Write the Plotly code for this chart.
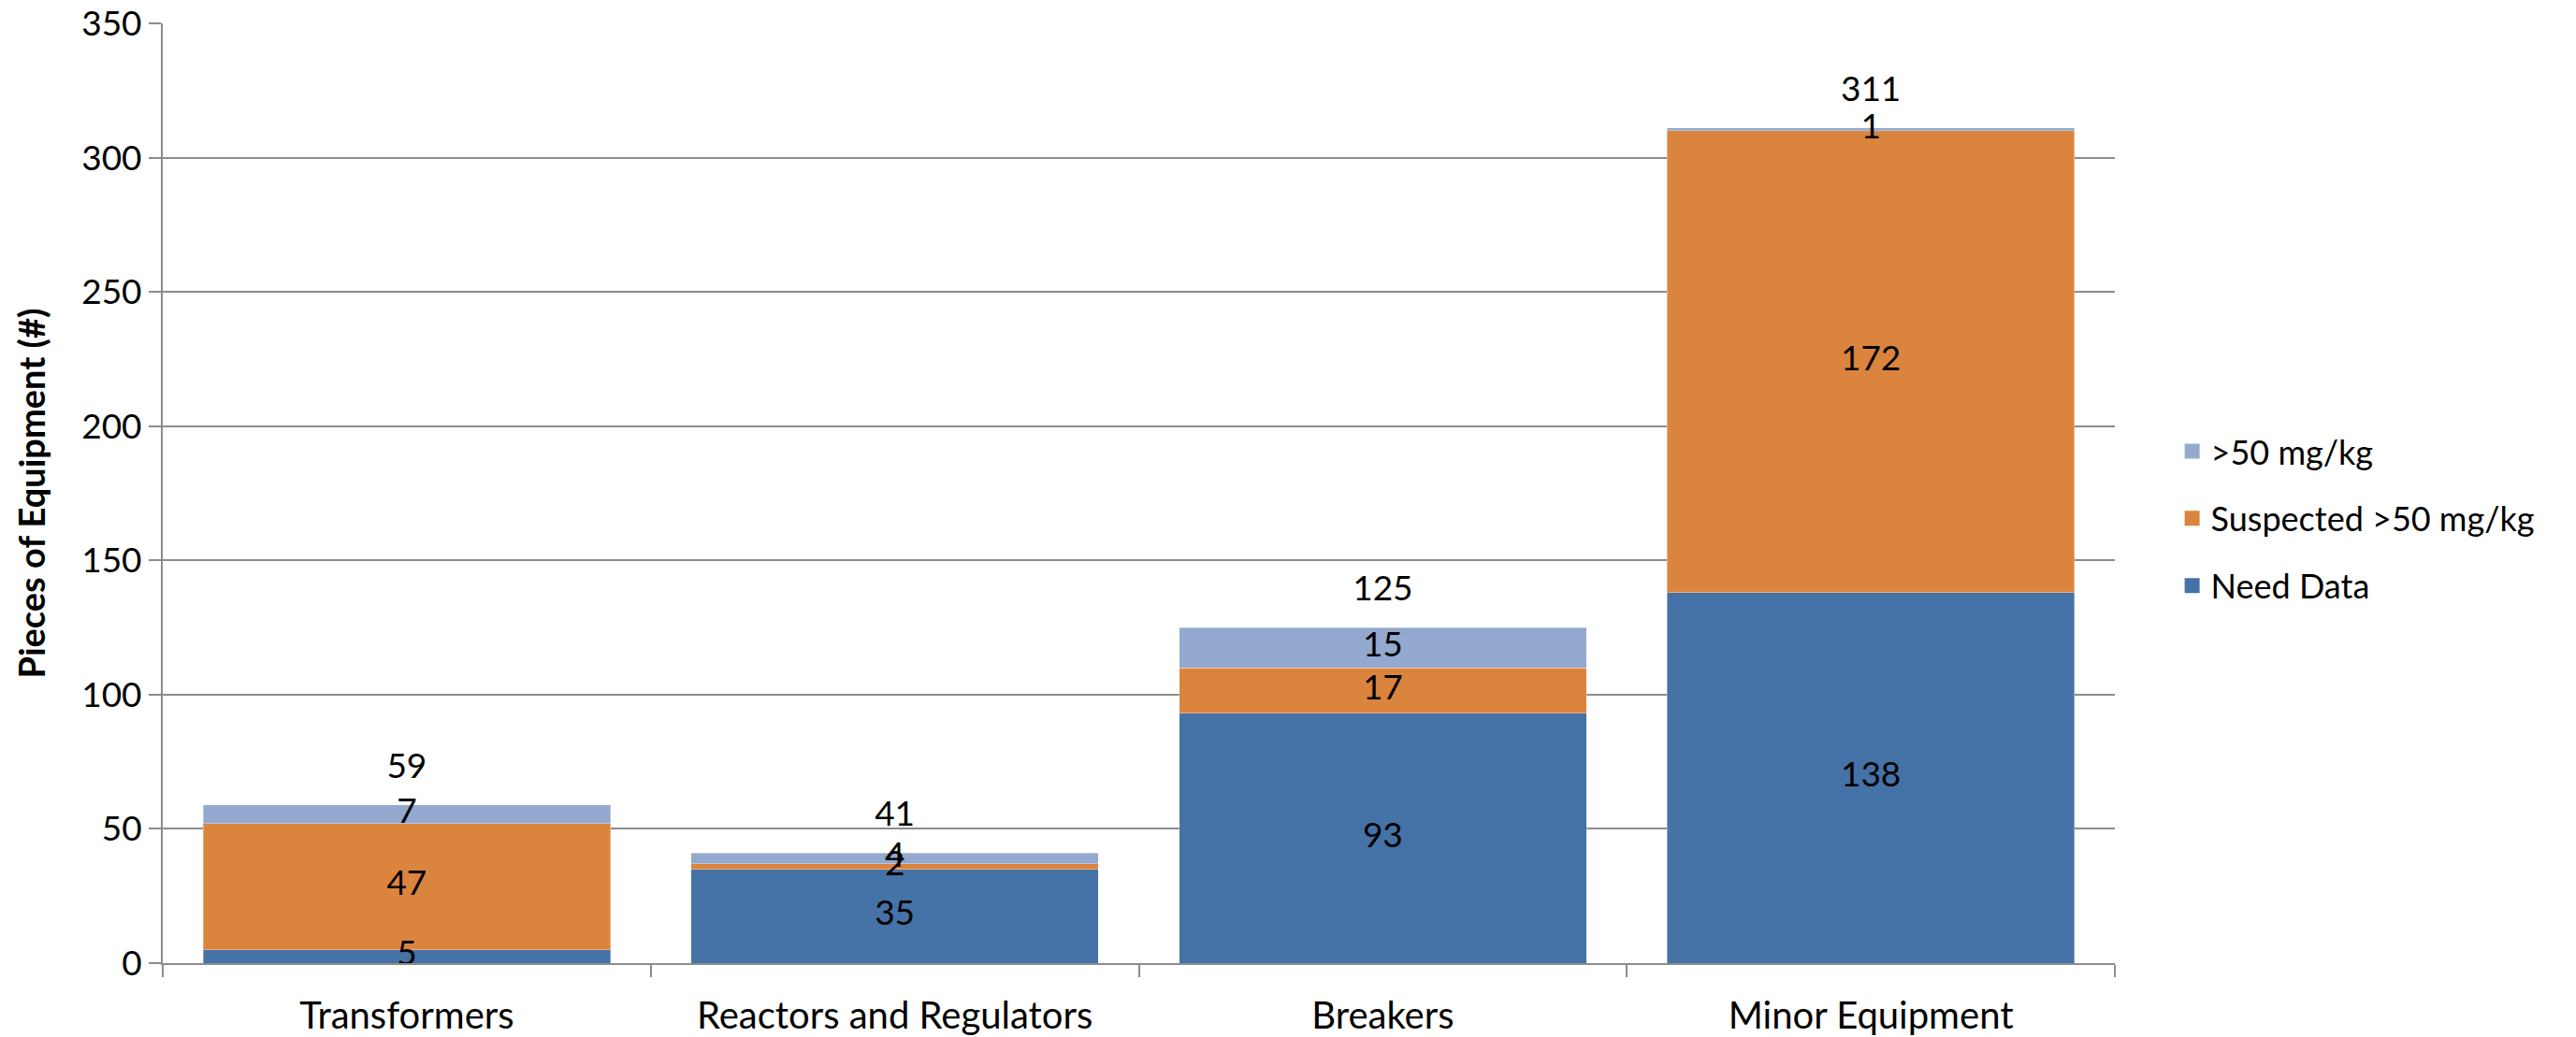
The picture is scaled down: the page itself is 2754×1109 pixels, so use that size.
import plotly.graph_objects as go

# Equipment inventory by category and PCB status
categories = ["Transformers", "Reactors and Regulators", "Breakers", "Minor Equipment"]
need_data = [5, 35, 93, 138]
suspected = [47, 2, 17, 172]
over_50 = [7, 4, 15, 1]

series_names = ["Need Data", "Suspected >50 mg/kg", ">50 mg/kg"]
series_values = [need_data, suspected, over_50]
series_colors = ["#4572A7", "#DB843D", "#93A9CF"]
legend_rank = [3, 2, 1]

y_ticks = [0, 50, 100, 150, 200, 250, 300, 350]

FONT = "Lato"
TXT = 37
GRID = "#8C8C8C"

fig = go.Figure()

# stacked segments
for name, vals, col in zip(series_names, series_values, series_colors):
    fig.add_trace(go.Bar(
        x=categories, y=vals, name=name,
        marker=dict(color=col, line=dict(color="rgba(255,255,255,0.35)", width=1)),
        showlegend=False, hoverinfo="x+y+name",
    ))

# legend entries with square swatches
for name, col, rank in zip(series_names, series_colors, legend_rank):
    fig.add_trace(go.Scatter(
        x=[None], y=[None], name=name, legendrank=rank, mode="markers",
        marker=dict(symbol="square", size=22, color=col),
        showlegend=True, legendgroup=name,
    ))

# segment value labels centred in each segment
base = [0] * len(categories)
for vals in series_values:
    mids = [b + v / 2 for b, v in zip(base, vals)]
    fig.add_trace(go.Scatter(
        x=categories, y=mids, mode="text", text=[str(v) for v in vals],
        textposition="middle center", textfont=dict(family=FONT, size=TXT, color="black"),
        showlegend=False, hoverinfo="skip", cliponaxis=False,
    ))
    base = [b + v for b, v in zip(base, vals)]

# totals above each stack (transparent marker lifts the text off the bar top)
totals = base
fig.add_trace(go.Scatter(
    x=categories, y=totals, mode="markers+text", text=[str(t) for t in totals],
    marker=dict(size=30, color="rgba(0,0,0,0)"),
    textposition="top center", textfont=dict(family=FONT, size=TXT, color="black"),
    showlegend=False, hoverinfo="skip", cliponaxis=False,
))

fig.update_layout(
    barmode="stack",
    bargap=0.165,
    width=2754, height=1109,
    margin=dict(l=174, r=493, t=25, b=79),
    plot_bgcolor="white", paper_bgcolor="white",
    font=dict(family=FONT, size=TXT, color="black"),
    showlegend=True,
    legend=dict(
        traceorder="grouped", tracegroupgap=22,
        x=1.03, xanchor="left", y=0.473, yanchor="middle",
        font=dict(family=FONT, size=36, color="black"),
        bgcolor="rgba(0,0,0,0)", itemwidth=30,
    ),
    annotations=[dict(
        text="<b>Pieces of Equipment (#)</b>", textangle=-90,
        xref="paper", yref="paper", x=-0.068, y=0.5,
        xanchor="center", yanchor="middle", showarrow=False,
        font=dict(family=FONT, size=38, color="black"),
    )],
)

fig.update_yaxes(
    range=[0, 350], tickvals=y_ticks, ticktext=[str(t) for t in y_ticks],
    showgrid=True, gridcolor=GRID, gridwidth=2,
    showline=True, linecolor=GRID, linewidth=2,
    ticks="outside", ticklen=13, tickcolor=GRID, tickwidth=2,
    zeroline=False, tickfont=dict(family=FONT, size=TXT), automargin=False,
)
fig.update_xaxes(
    showline=True, linecolor=GRID, linewidth=2,
    ticks="outside", tickson="boundaries", ticklen=13, tickcolor=GRID, tickwidth=2,
    ticklabelstandoff=20, automargin=False,
    showgrid=False, tickfont=dict(family=FONT, size=40),
)

fig.write_html("out.html")
